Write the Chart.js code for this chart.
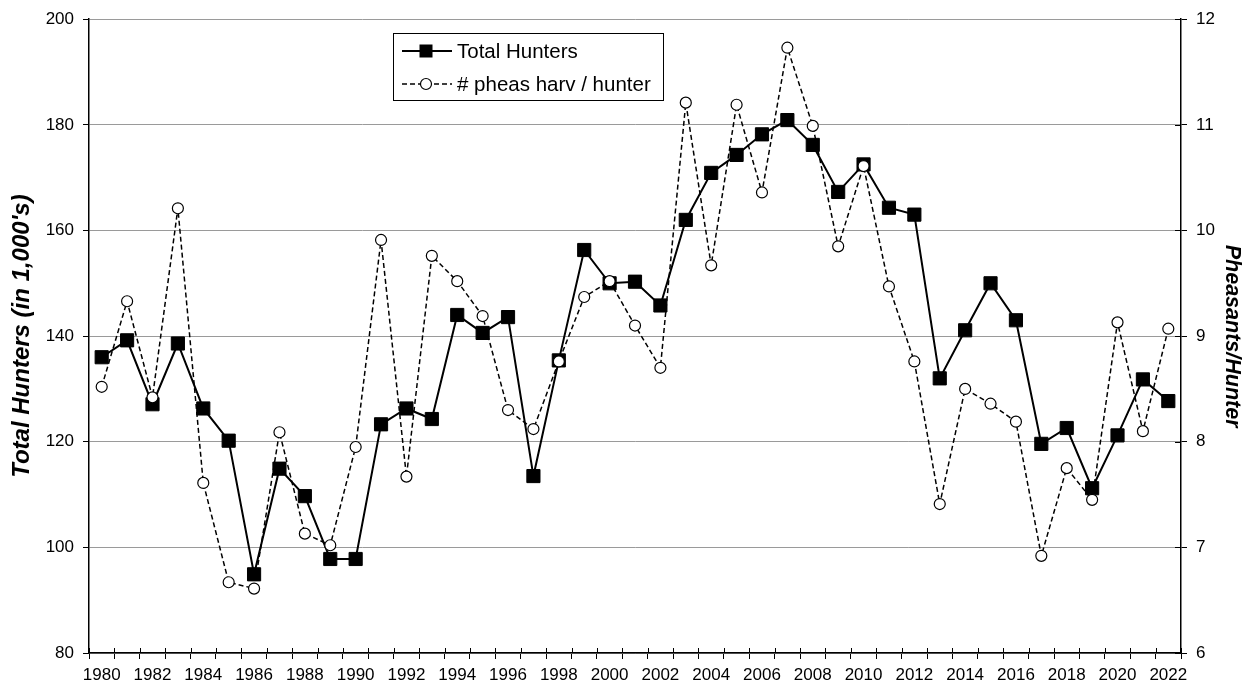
<!DOCTYPE html>
<html><head><meta charset="utf-8">
<script src="https://cdn.jsdelivr.net/npm/chart.js@4/dist/chart.umd.min.js"></script>
<style>html,body{margin:0;padding:0;background:#fff;overflow:hidden}</style>
</head><body>
<canvas id="c" width="1252" height="685" style="display:block;width:1252px;height:685px"></canvas>
<script>
const years = ['1980','1981','1982','1983','1984','1985','1986','1987','1988','1989','1990','1991','1992','1993','1994','1995','1996','1997','1998','1999','2000','2001','2002','2003','2004','2005','2006','2007','2008','2009','2010','2011','2012','2013','2014','2015','2016','2017','2018','2019','2020','2021','2022'];
const totalHunters = [136.0,139.2,127.1,138.6,126.3,120.2,94.9,114.9,109.7,97.8,97.8,123.3,126.3,124.3,144.0,140.6,143.6,113.5,135.4,156.3,150.0,150.3,145.8,162.0,170.9,174.3,178.2,180.9,176.2,167.3,172.5,164.3,163.0,132.0,141.1,150.0,143.0,119.6,122.6,111.2,121.2,131.8,127.7];
const pheasPerHunter = [8.52,9.33,8.42,10.21,7.61,6.67,6.61,8.09,7.13,7.02,7.95,9.91,7.67,9.76,9.52,9.19,8.30,8.12,8.76,9.37,9.52,9.10,8.70,11.21,9.67,11.19,10.36,11.73,10.99,9.85,10.61,9.47,8.76,7.41,8.50,8.36,8.19,6.92,7.75,7.45,9.13,8.10,9.07];
const seriesNames = ['Total Hunters', '# pheas harv / hunter'];
const leftTitle = "Total Hunters (in 1,000's)";
const rightTitle = 'Pheasants/Hunter';

const FONT = "'Liberation Sans', Arial, sans-serif";

const legendPlugin = {
  id: 'boxLegend',
  afterDraw(chart) {
    const ctx = chart.ctx;
    const x0 = 393, y0 = 33, w = 270, h = 67;
    ctx.save();
    ctx.fillStyle = '#fff';
    ctx.fillRect(x0, y0, w, h);
    ctx.strokeStyle = '#000';
    ctx.lineWidth = 1;
    ctx.strokeRect(x0 + 0.5, y0 + 0.5, w, h);
    const rows = [y0 + 18, y0 + 51];
    ctx.setLineDash([]);
    ctx.lineWidth = 2;
    ctx.beginPath(); ctx.moveTo(x0 + 9, rows[0]); ctx.lineTo(x0 + 59, rows[0]); ctx.stroke();
    ctx.fillStyle = '#000';
    ctx.fillRect(x0 + 33 - 6.5, rows[0] - 6.5, 13, 13);
    ctx.lineWidth = 1.5;
    ctx.setLineDash([5, 3]);
    ctx.beginPath(); ctx.moveTo(x0 + 9, rows[1]); ctx.lineTo(x0 + 59, rows[1]); ctx.stroke();
    ctx.setLineDash([]);
    ctx.beginPath(); ctx.arc(x0 + 33, rows[1], 5.5, 0, Math.PI * 2);
    ctx.fillStyle = '#fff'; ctx.fill(); ctx.lineWidth = 1.2; ctx.stroke();
    ctx.fillStyle = '#000';
    ctx.font = '20.5px ' + FONT;
    ctx.textBaseline = 'middle';
    ctx.fillText(seriesNames[0], x0 + 64, rows[0] + 1);
    ctx.fillText(seriesNames[1], x0 + 64, rows[1] + 1);
    const xs = chart.scales.x;
    const n = years.length;
    ctx.strokeStyle = '#000'; ctx.lineWidth = 1;
    for (let i = 0; i <= n; i++) {
      const px = Math.round(xs.left + i * xs.width / n) + 0.5;
      ctx.beginPath(); ctx.moveTo(px, xs.top - 5); ctx.lineTo(px, xs.top); ctx.stroke();
    }
    const ys = chart.scales.y2;
    for (const t of ys.ticks) {
      const py = Math.round(ys.getPixelForValue(t.value)) + 0.5;
      ctx.beginPath(); ctx.moveTo(ys.left - 6, py); ctx.lineTo(ys.left, py); ctx.stroke();
    }
    ctx.restore();
  }
};

new Chart(document.getElementById('c'), {
  type: 'line',
  data: {
    labels: years,
    datasets: [
      {
        label: seriesNames[0], data: totalHunters, yAxisID: 'y', order: 1,
        borderColor: '#000', borderWidth: 2, backgroundColor: '#000',
        pointStyle: 'rect', pointRadius: 9.3, pointBorderWidth: 1,
        pointBackgroundColor: '#000', pointBorderColor: '#000', tension: 0
      },
      {
        label: seriesNames[1], data: pheasPerHunter, yAxisID: 'y2', order: 0,
        borderColor: '#000', borderWidth: 1.5, borderDash: [5, 3],
        pointStyle: 'circle', pointRadius: 5.5, pointBorderWidth: 1.2,
        pointBackgroundColor: '#fff', pointBorderColor: '#000', tension: 0
      }
    ]
  },
  options: {
    responsive: false, animation: false,
    layout: { padding: { top: 15, left: 0, right: 0, bottom: 0 } },
    plugins: { legend: { display: false }, tooltip: { enabled: false } },
    scales: {
      x: {
        type: 'category', offset: true,
        grid: { offset: true, drawOnChartArea: false, drawTicks: true, tickLength: 6, tickColor: '#000' },
        border: { color: '#000', width: 1.5 },
        ticks: {
          autoSkip: false, maxRotation: 0, minRotation: 0, padding: 6, color: '#000',
          font: { family: FONT, size: 17 },
          callback: function (v) { const l = this.getLabelForValue(v); return (Number(l) % 2 === 0) ? l : ''; }
        },
        afterFit(s) { s.height = 32; }
      },
      y: {
        position: 'left', min: 80, max: 200,
        grid: { color: '#9a9a9a', lineWidth: 1, tickLength: 6, tickColor: '#000' },
        border: { color: '#000', width: 1.5 },
        ticks: { stepSize: 20, padding: 9, color: '#000', font: { family: FONT, size: 17 } },
        title: { display: true, text: leftTitle, color: '#000', padding: { top: 8, bottom: 0 },
          font: { family: FONT, size: 24, weight: 'bold', style: 'italic' } },
        afterFit(s) { s.width = 89; }
      },
      y2: {
        position: 'right', min: 6, max: 12,
        grid: { drawOnChartArea: false, tickLength: 6, tickColor: '#000' },
        border: { color: '#000', width: 1.5 },
        ticks: { stepSize: 1, padding: 9, color: '#000', font: { family: FONT, size: 17 } },
        title: { display: true, text: rightTitle, color: '#000', padding: { top: 7, bottom: 0 },
          font: { family: FONT, size: 21.5, weight: 'bold', style: 'italic' } },
        afterFit(s) { s.width = 71; }
      }
    }
  },
  plugins: [legendPlugin]
});
</script>
</body></html>
